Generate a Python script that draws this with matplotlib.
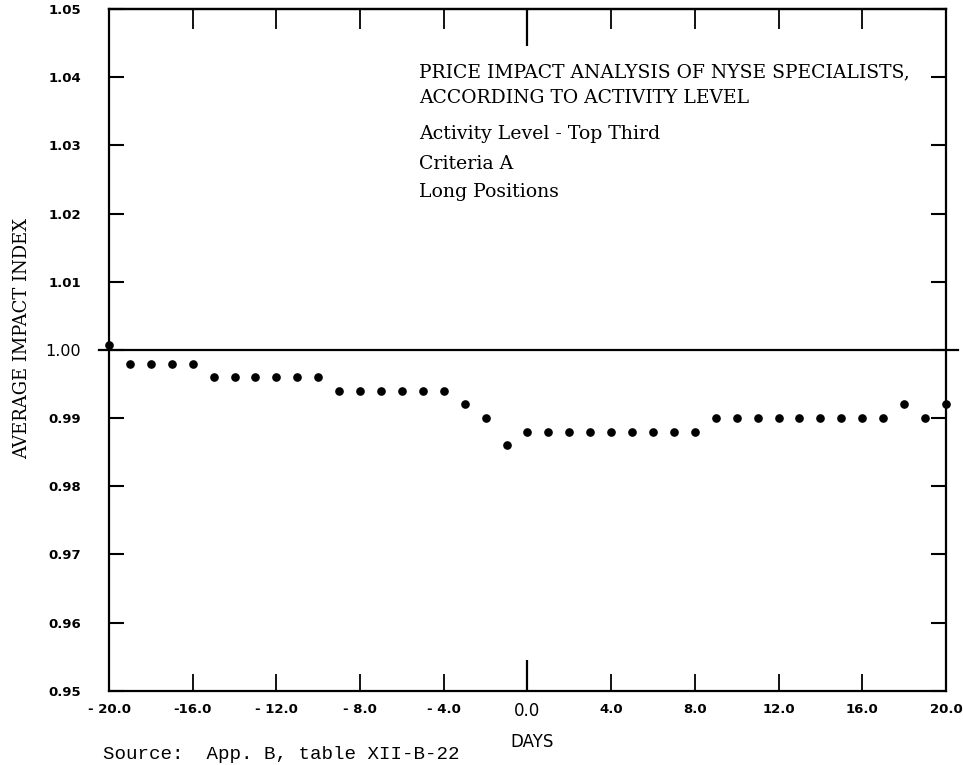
import matplotlib
matplotlib.use("Agg")
import matplotlib.pyplot as plt

# values (one point per trading day)
days = list(range(-20, 21))
impact = [1.0007,
          0.998, 0.998, 0.998, 0.998,
          0.996, 0.996, 0.996, 0.996, 0.996, 0.996,
          0.994, 0.994, 0.994, 0.994, 0.994, 0.994,
          0.992, 0.990, 0.986,
          0.988, 0.988, 0.988, 0.988, 0.988, 0.988, 0.988, 0.988, 0.988,
          0.990, 0.990, 0.990, 0.990, 0.990, 0.990, 0.990, 0.990, 0.990,
          0.992, 0.990, 0.992]
baseline = 1.0

x_ticks = [-20, -16, -12, -8, -4, 4, 8, 12, 16, 20]
x_labels = ["- 20.0", "-16.0", "- 12.0", "- 8.0", "- 4.0",
            "4.0", "8.0", "12.0", "16.0", "20.0"]
y_ticks = [0.95, 0.96, 0.97, 0.98, 0.99, 1.00, 1.01, 1.02, 1.03, 1.04, 1.05]
y_labels = ["0.95", "0.96", "0.97", "0.98", "0.99", "1.00",
            "1.01", "1.02", "1.03", "1.04", "1.05"]

title_lines = ["PRICE IMPACT ANALYSIS OF NYSE SPECIALISTS,",
               "ACCORDING TO ACTIVITY LEVEL"]
sub_lines = ["Activity Level - Top Third", "Criteria A", "Long Positions"]

fig = plt.figure(figsize=(9.63, 7.65), dpi=100)
ax = fig.add_axes([0.1132, 0.0971, 0.8691, 0.8911])
ax.set_xlim(-20, 20)
ax.set_ylim(0.95, 1.05)

ax.plot(days, impact, "o", color="black", ms=5.2, clip_on=False, zorder=3)
ax.axhline(baseline, xmin=-0.012, xmax=1.014, color="black", lw=1.6, clip_on=False)

for s in ax.spines.values():
    s.set_linewidth(1.6)

lab_font = dict(fontfamily="DejaVu Sans", fontweight="bold", fontsize=9.5)

# bottom ticks: 0 gets its own longer tick and bigger label
ax.set_xticks(x_ticks)
ax.set_xticklabels(x_labels, **lab_font)
ax.set_xticks([0], minor=True)
ax.set_xticklabels(["0.0"], minor=True, fontfamily="DejaVu Sans", fontsize=12)
ax.tick_params(axis="x", which="major", direction="in", length=12.5, width=1.3, pad=9)
ax.tick_params(axis="x", which="minor", direction="in", length=22, width=1.6, pad=8)

# top ticks
top = ax.secondary_xaxis("top")
top.set_xticks(x_ticks)
top.set_xticks([0], minor=True)
top.tick_params(which="both", direction="in", labeltop=False)
top.tick_params(which="major", length=14.5, width=1.3)
top.tick_params(which="minor", length=26.5, width=1.6)
top.spines["top"].set_linewidth(1.6)

ax.set_yticks(y_ticks)
ax.set_yticklabels(y_labels, **lab_font)
ax.tick_params(axis="y", direction="in", length=11, width=1.5, left=True, right=True, pad=20)
for lab in ax.get_yticklabels():
    if lab.get_text() == "1.00":
        lab.set_fontweight("normal")
        lab.set_fontsize(11.5)

# text block inside the plot
x0 = 419 / 963
for txt, ypx in zip(title_lines, [77, 103]):
    fig.text(x0, 1 - ypx / 765, txt, family="DejaVu Serif", fontsize=13.5, va="baseline")
for txt, ypx in zip(sub_lines, [139, 169, 197]):
    fig.text(x0, 1 - ypx / 765, txt, family="DejaVu Serif", fontsize=13.6, va="baseline")

fig.text(22 / 963, 1 - 338 / 765, "AVERAGE IMPACT INDEX", family="DejaVu Serif",
         fontsize=13, rotation=90, ha="center", va="center")
fig.text(532 / 963, 1 - 747 / 765, "DAYS", family="DejaVu Sans", fontsize=12,
         ha="center", va="baseline")
fig.text(103 / 963, 1 - 759 / 765, "Source:  App. B, table XII-B-22",
         family="Liberation Mono", fontsize=13.8, va="baseline")

fig.savefig("out.png", dpi=100)
